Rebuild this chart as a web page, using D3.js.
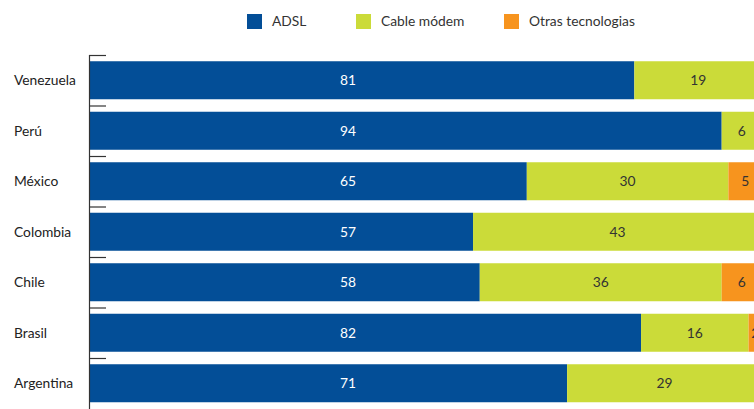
<!DOCTYPE html>
<html><head><meta charset="utf-8">
<script src="https://cdn.jsdelivr.net/npm/d3@7"></script>
<style>body{margin:0;background:#fff;overflow:hidden}svg{display:block}</style>
</head><body>
<svg id="c" width="754" height="409"></svg>
<script>
const countries = ["Venezuela","Perú","México","Colombia","Chile","Brasil","Argentina"];
const seriesNames = ["ADSL","Cable módem","Otras tecnologias"];
const adsl  = [81,94,65,57,58,82,71];
const cable = [19,6,30,43,36,16,29];
const otras = [0,0,5,0,6,2,0];
const colors = ["#034e97","#cbdb39","#f7941e"];
const labelColors = ["#ffffff","#333333","#333333"];

const svg = d3.select("#c");
const font = "Lato, 'Open Sans', sans-serif";
const fs = 13.8;
const x = d3.scaleLinear().domain([0,100]).range([90,762]);
const y = d3.scaleBand().domain(countries).range([55,408.5]).paddingInner(0.2475).paddingOuter(0.12375);

const rows = countries.map((c,i)=>({country:c, adsl:adsl[i], cable:cable[i], otras:otras[i]}));
const stack = d3.stack().keys(["adsl","cable","otras"])(rows);

stack.forEach((layer,k)=>{
  svg.append("g").selectAll("rect").data(layer).join("rect")
    .attr("x",d=>x(d[0])).attr("width",d=>Math.max(0,x(d[1])-x(d[0])))
    .attr("y",d=>y(d.data.country)).attr("height",y.bandwidth())
    .attr("fill",colors[k]);
  svg.append("g").selectAll("text").data(layer.filter(d=>d[1]-d[0]>0)).join("text")
    .attr("x",d=> k===0 ? x(38.4) : x((d[0]+d[1])/2))
    .attr("y",d=>y(d.data.country)+y.bandwidth()/2)
    .attr("dy","0.36em").attr("text-anchor","middle")
    .attr("font-family",font).attr("font-size",fs)
    .attr("fill",labelColors[k])
    .text(d=>d[1]-d[0]);
});

// axis
const ax = svg.append("g").attr("stroke","#333").attr("stroke-width",1.2);
ax.append("line").attr("x1",89.5).attr("x2",89.5).attr("y1",y.range()[0]).attr("y2",409);
const step = y.step();
d3.range(countries.length).forEach(i=>{
  ax.append("line").attr("x1",89).attr("x2",106).attr("y1",55+i*step+0.5).attr("y2",55+i*step+0.5);
});
svg.append("g").selectAll("text").data(countries).join("text")
  .attr("x",14).attr("y",d=>y(d)+y.bandwidth()/2).attr("dy","0.36em")
  .attr("font-family",font).attr("font-size",fs).attr("fill","#222").text(d=>d);

// legend
const legX = [247,356,504];
const lg = svg.append("g");
seriesNames.forEach((s,i)=>{
  lg.append("rect").attr("x",legX[i]).attr("y",14).attr("width",15).attr("height",15).attr("fill",colors[i]);
  lg.append("text").attr("x",legX[i]+25).attr("y",21.5).attr("dy","0.36em")
    .attr("font-family",font).attr("font-size",fs).attr("fill","#333").text(s);
});
</script>
</body></html>
